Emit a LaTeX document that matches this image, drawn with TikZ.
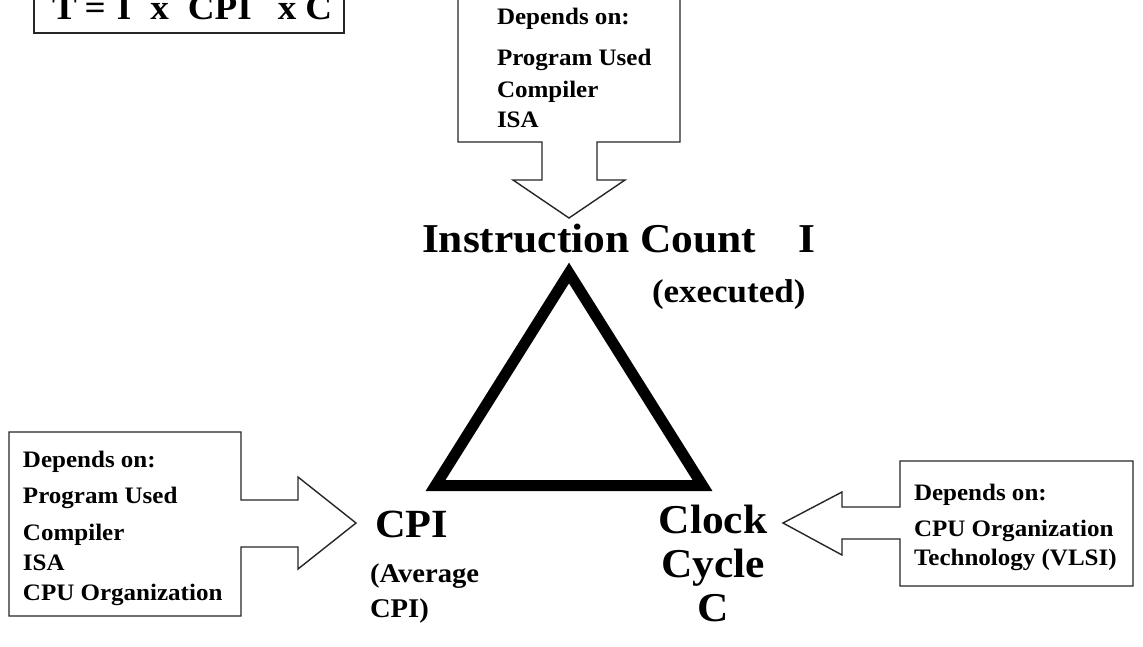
\documentclass[tikz,border=0pt]{standalone}
\usepackage{fontspec}
\setmainfont{Liberation Serif}[FakeStretch=1.06]
\begin{document}
\begin{tikzpicture}[x=1pt,y=-1pt,
  lbl/.style={inner sep=0pt,outer sep=0pt,anchor=base west,font=\bfseries},
  boxtxt/.style={lbl,align=left,font=\bfseries\fontsize{23.6}{30}\selectfont},
  callout/.style={draw=black!85,line width=1.4pt,line join=miter,fill=white},
  tri/.style={draw=black,line width=11pt,line join=miter,miter limit=10}]
\useasboundingbox (0,0) rectangle (1143,646);
\fill[white] (0,0) rectangle (1143,646);
% formula box
\draw[callout,line width=1.8pt] (34,-10) -- (344,-10) -- (344,33) -- (34,33) -- cycle;
\node[lbl,font=\bfseries\fontsize{35}{40}\selectfont] (formula) at (52,19)
  {T\hspace{8pt}=\hspace{11pt}I\hspace{19pt}x\hspace{19pt}CPI\hspace{26pt}x\hspace{9pt}C};
% top callout
\draw[callout] (458,-10) -- (680,-10) -- (680,142) -- (597,142) -- (597,180) -- (625,180)
  -- (569,218) -- (513,180) -- (542,180) -- (542,142) -- (458,142) -- cycle;
\node[boxtxt] (tdep) at (497,127) {Depends on:\\[11pt]Program Used\\[2pt]Compiler\\ISA};
% left callout
\draw[callout] (9,432) -- (241,432) -- (241,500) -- (298,500) -- (298,477) -- (356,523)
  -- (298,569) -- (298,547) -- (241,547) -- (241,616) -- (9,616) -- cycle;
\node[boxtxt] (ldep) at (23,600) {Depends on:\\[6pt]Program Used\\[7pt]Compiler\\ISA\\CPU Organization};
% right callout
\draw[callout] (900,461) -- (1133,461) -- (1133,586) -- (900,586) -- (900,539) -- (842,539)
  -- (842,555) -- (783,523) -- (842,492) -- (842,507) -- (900,507) -- cycle;
\node[boxtxt] (rdep) at (914,565) {Depends on:\\[6pt]CPU Organization\\[-1pt]Technology (VLSI)};
% triangle
\coordinate (apex) at (569,273);
\coordinate (bl) at (435.5,485.5);
\coordinate (br) at (702.5,485.5);
\draw[tri] (apex) -- (bl) -- (br) -- cycle;
% labels
\node[lbl,font=\bfseries\fontsize{41}{44}\selectfont] (ic) at (422,252) {Instruction Count};
\node[lbl,font=\bfseries\fontsize{41}{44}\selectfont] (icI) at (798,252) {I};
\node[lbl,font=\bfseries\fontsize{33}{36}\selectfont] (exec) at (652,302) {(executed)};
\node[lbl,font=\bfseries\fontsize{40}{44}\selectfont] (cpi) at (375,537) {CPI};
\node[lbl,align=left,font=\bfseries\fontsize{27}{35}\selectfont] (avg) at (370,617) {(Average\\CPI)};
\node[inner sep=0pt,anchor=base,align=center,font=\bfseries\fontsize{41}{44}\selectfont] (clock) at (713,621) {Clock\\Cycle\\C};
\end{tikzpicture}
\end{document}
